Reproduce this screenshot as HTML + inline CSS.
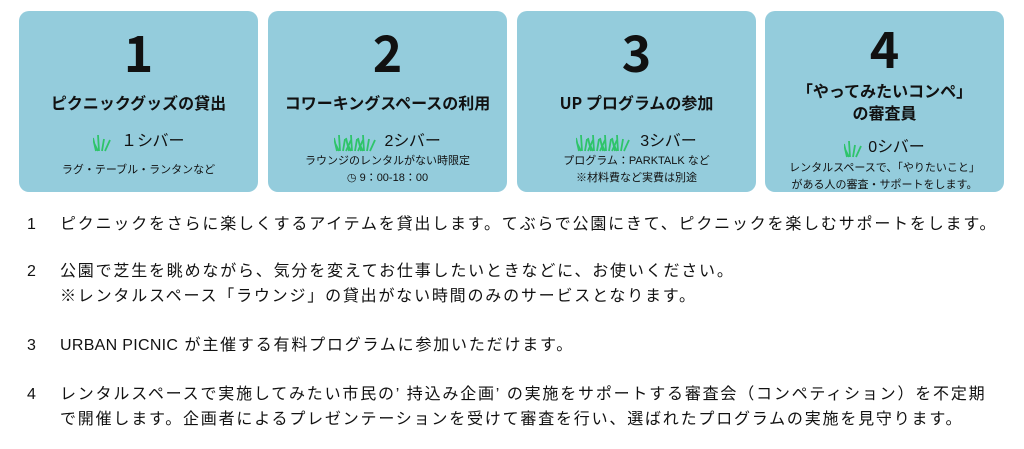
<!DOCTYPE html>
<html><head><meta charset="utf-8"><style>
*{margin:0;padding:0;box-sizing:border-box}
body{width:1024px;height:449px;background:#fff;position:relative;overflow:hidden;font-family:"Liberation Sans","Noto Sans CJK JP",sans-serif;color:#111}
.card{position:absolute;top:11px;width:239px;height:181px;background:#94ccdc;border-radius:10px;text-align:center}
.num{position:absolute;left:0;right:0;top:12px;font-size:50px;font-weight:bold;line-height:56px;font-family:"Noto Sans CJK JP",sans-serif}
.ttl{position:absolute;left:0;right:0;top:80px;font-size:16px;font-weight:bold;line-height:22px;font-family:"Noto Sans CJK JP",sans-serif}
.sb{position:absolute;left:0;right:0;top:120px;font-size:16px;line-height:22px;display:flex;justify-content:center;align-items:center;gap:4px}
.sm{position:absolute;left:0;right:0;top:150px;font-size:11px;line-height:17px}
.row{position:absolute;left:27px;font-size:16px;letter-spacing:1.8px;line-height:25px;white-space:nowrap}
.row span{position:absolute;left:33px}
.l{letter-spacing:0.3px}
</style></head><body>
<svg width="0" height="0" style="position:absolute"><defs>
<g id="g"><path d="M3 18 L0 5 M6 18 L5 2 M9 18 L11 6 M12 18 L17 7 M5 18 L1 10" stroke="#2ec46a" stroke-width="1.8" fill="none"/></g></defs></svg>

<div class="card" style="left:19px">
<div class="num">1</div><div class="ttl">ピクニックグッズの貸出</div>
<div class="sb"><svg width="20" height="19"><use href="#g"/></svg>&nbsp;１シバー</div>
<div class="sm" style="top:151px">ラグ・テーブル・ランタンなど</div></div>

<div class="card" style="left:268px">
<div class="num">2</div><div class="ttl">コワーキングスペースの利用</div>
<div class="sb"><svg width="42" height="19"><use href="#g"/><use href="#g" x="12"/><use href="#g" x="24"/></svg>&nbsp;2シバー</div>
<div class="sm" style="top:142px">ラウンジのレンタルがない時限定<br>◷ 9：00-18：00</div></div>

<div class="card" style="left:517px">
<div class="num">3</div><div class="ttl">UP プログラムの参加</div>
<div class="sb"><svg width="60" height="19"><use href="#g"/><use href="#g" x="12"/><use href="#g" x="24"/><use href="#g" x="36"/></svg>3シバー</div>
<div class="sm" style="top:142px">プログラム：PARKTALK など<br>※材料費など実費は別途</div></div>

<div class="card" style="left:765px">
<div class="num" style="top:8px">4</div><div class="ttl" style="top:68px">「やってみたいコンペ」<br>の審査員</div>
<div class="sb" style="top:126px"><svg width="20" height="19"><use href="#g"/></svg>0シバー</div>
<div class="sm" style="top:149px">レンタルスペースで、「やりたいこと」<br>がある人の審査・サポートをします。</div></div>

<div class="row" style="top:212px">1<span>ピクニックをさらに楽しくするアイテムを貸出します。てぶらで公園にきて、ピクニックを楽しむサポートをします。</span></div>
<div class="row" style="top:259px">2<span>公園で芝生を眺めながら、気分を変えてお仕事したいときなどに、お使いください。<br>※レンタルスペース「ラウンジ」の貸出がない時間のみのサービスとなります。</span></div>
<div class="row" style="top:333px">3<span><span class="l" style="position:static">URBAN PICNIC</span> が主催する有料プログラムに参加いただけます。</span></div>
<div class="row" style="top:382px">4<span>レンタルスペースで実施してみたい市民の’ 持込み企画’ の実施をサポートする審査会（コンペティション）を不定期<br>で開催します。企画者によるプレゼンテーションを受けて審査を行い、選ばれたプログラムの実施を見守ります。</span></div>
</body></html>
